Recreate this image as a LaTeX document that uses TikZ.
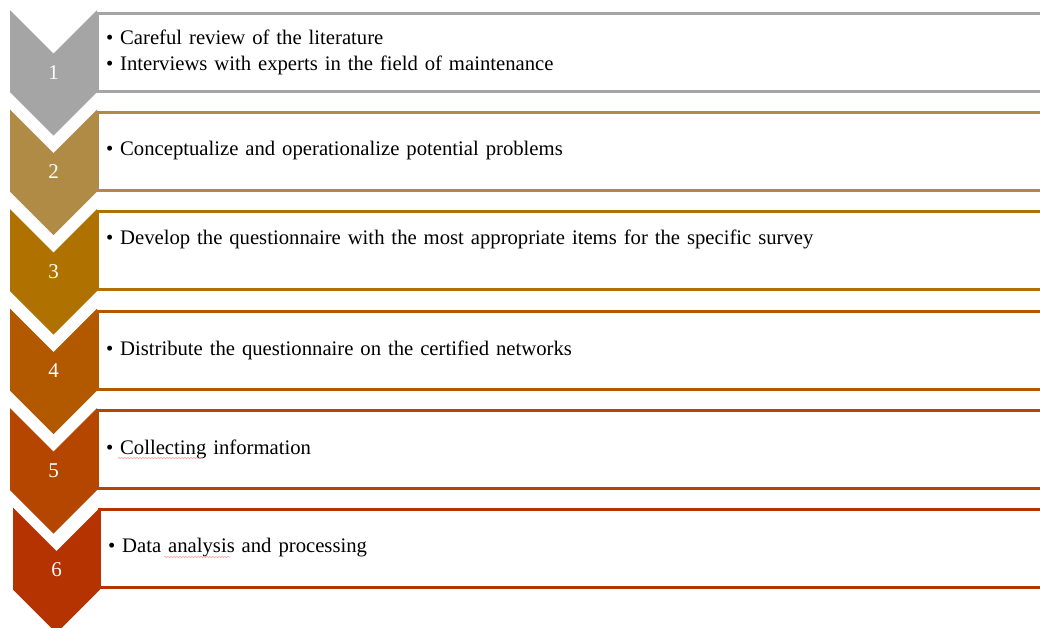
\documentclass[tikz,border=0pt]{standalone}
\usepackage{fontspec}
\setmainfont{Liberation Serif}
\usepackage{xcolor}
\definecolor{stepgray}{RGB}{165, 165, 165}
\definecolor{steptan}{RGB}{175, 139, 70}
\definecolor{stepgold}{RGB}{175, 114, 0}
\definecolor{steporange}{RGB}{178, 89, 0}
\definecolor{steprust}{RGB}{180, 70, 0}
\definecolor{stepred}{RGB}{181, 51, 0}
\usepackage{tikz}
\usetikzlibrary{decorations.pathmorphing}
\tikzstyle{number} = [inner sep=0pt, text=white, font=\fontsize{21}{24}\selectfont]
\tikzstyle{stepbox} = [shape=rectangle, line width=3pt, fill=white, anchor=north west, outer sep=0pt, minimum width=953pt, minimum height=78pt, text width=935pt, inner xsep=9pt, align=left, font=\fontsize{20.7}{26}\selectfont]
\tikzstyle{squiggle} = [draw=red!35, line width=0.6pt, decorate, decoration={snake, amplitude=0.7pt, segment length=3pt}]
\newcommand{\chevronpath}{-- ++(43.5,43.5) -- ++(43.5,-43.5) -- ++(0,82) -- ++(-43.5,43.5) -- ++(-43.5,-43.5) -- cycle}

\begin{document}
\begin{tikzpicture}[x=1pt, y=-1pt]
  \clip (0,0) rectangle (1040,627);
  \fill[white] (0,0) rectangle (1040,627);
  % text boxes
  \node[stepbox, draw=stepgray] (box1) at (97,13) {• Careful review of the literature\\• Interviews with experts in the field of maintenance};
  \node[stepbox, draw=steptan] (box2) at (97,112) {• Conceptualize and operationalize potential problems};
  \node[stepbox, draw=stepgold] (box3) at (97,211) {• Develop the questionnaire with the most appropriate items for the specific survey\\~};
  \node[stepbox, draw=steporange] (box4) at (97,311) {• Distribute the questionnaire on the certified networks};
  \node[stepbox, draw=steprust] (box5) at (97,410) {• Collecting information};
  \node[stepbox, draw=stepred] (box6) at (99,509) {• Data analysis and processing};
  % spelling marks
  \draw[squiggle] ([xshift=21pt, yshift=-4pt]box5.base west) -- ++(85,0);
  \draw[squiggle] ([xshift=65pt, yshift=-4pt]box6.base west) -- ++(66,0);
  % chevrons
  \fill[stepgray] (10,10) \chevronpath;
  \fill[steptan] (10,109.5) \chevronpath;
  \fill[stepgold] (10,209) \chevronpath;
  \fill[steporange] (10,308.5) \chevronpath;
  \fill[steprust] (10,408) \chevronpath;
  \fill[stepred] (13,507.5) \chevronpath;
  \node[number] (num1) at (53.5,72.5) {1};
  \node[number] (num2) at (53.5,172) {2};
  \node[number] (num3) at (53.5,271.5) {3};
  \node[number] (num4) at (53.5,371) {4};
  \node[number] (num5) at (53.5,470.5) {5};
  \node[number] (num6) at (56.5,570) {6};
\end{tikzpicture}
\end{document}
